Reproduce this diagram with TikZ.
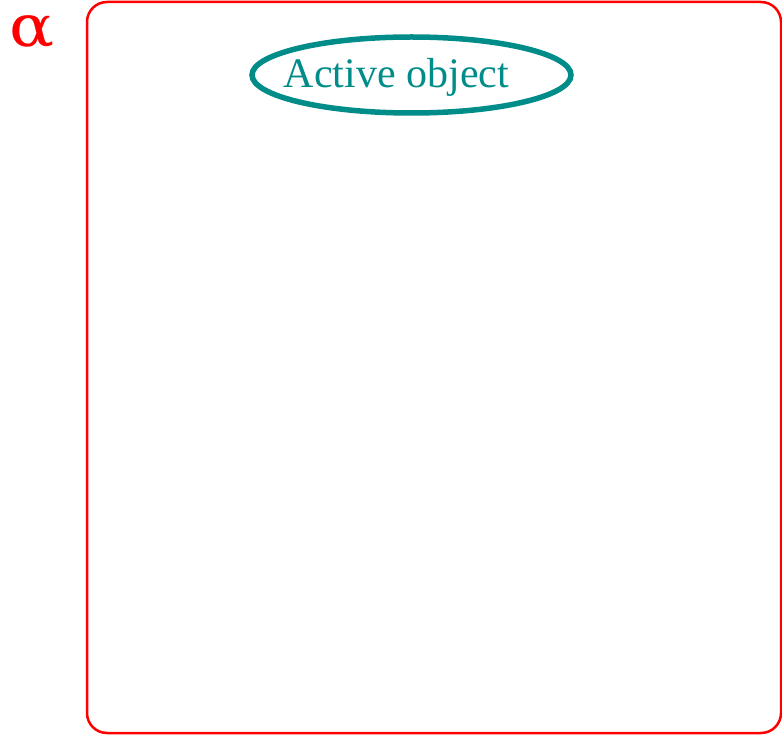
\documentclass[tikz,border=0pt]{standalone}
\usepackage{fontspec}
\setmainfont{Liberation Serif}
\newfontfamily\greekfont{DejaVu Serif}
\definecolor{objteal}{RGB}{0,140,136}
\begin{document}
\begin{tikzpicture}[x=1pt,y=-1pt,
  frame/.style={draw=red,line width=2.5pt,rounded corners=20pt},
  objring/.style={draw=objteal,line width=5.5pt},
  objtext/.style={text=objteal,font=\fontsize{42}{46}\selectfont,inner sep=0pt,anchor=base},
  greek/.style={text=red,font=\greekfont\fontsize{58}{62}\selectfont,inner sep=0pt,anchor=base west,xscale=1.15}]
  \useasboundingbox (0,0) rectangle (782,735);
  % outer frame
  \draw[frame] (87,2) rectangle (781,733);
  % corner label
  \node[greek] (alpha) at (9,47) {α};
  % the active object
  \draw[objring] (411.5,75) ellipse [x radius=159.5, y radius=38];
  \node[objtext] (obj) at (396.5,88) {Active object};
\end{tikzpicture}
\end{document}
